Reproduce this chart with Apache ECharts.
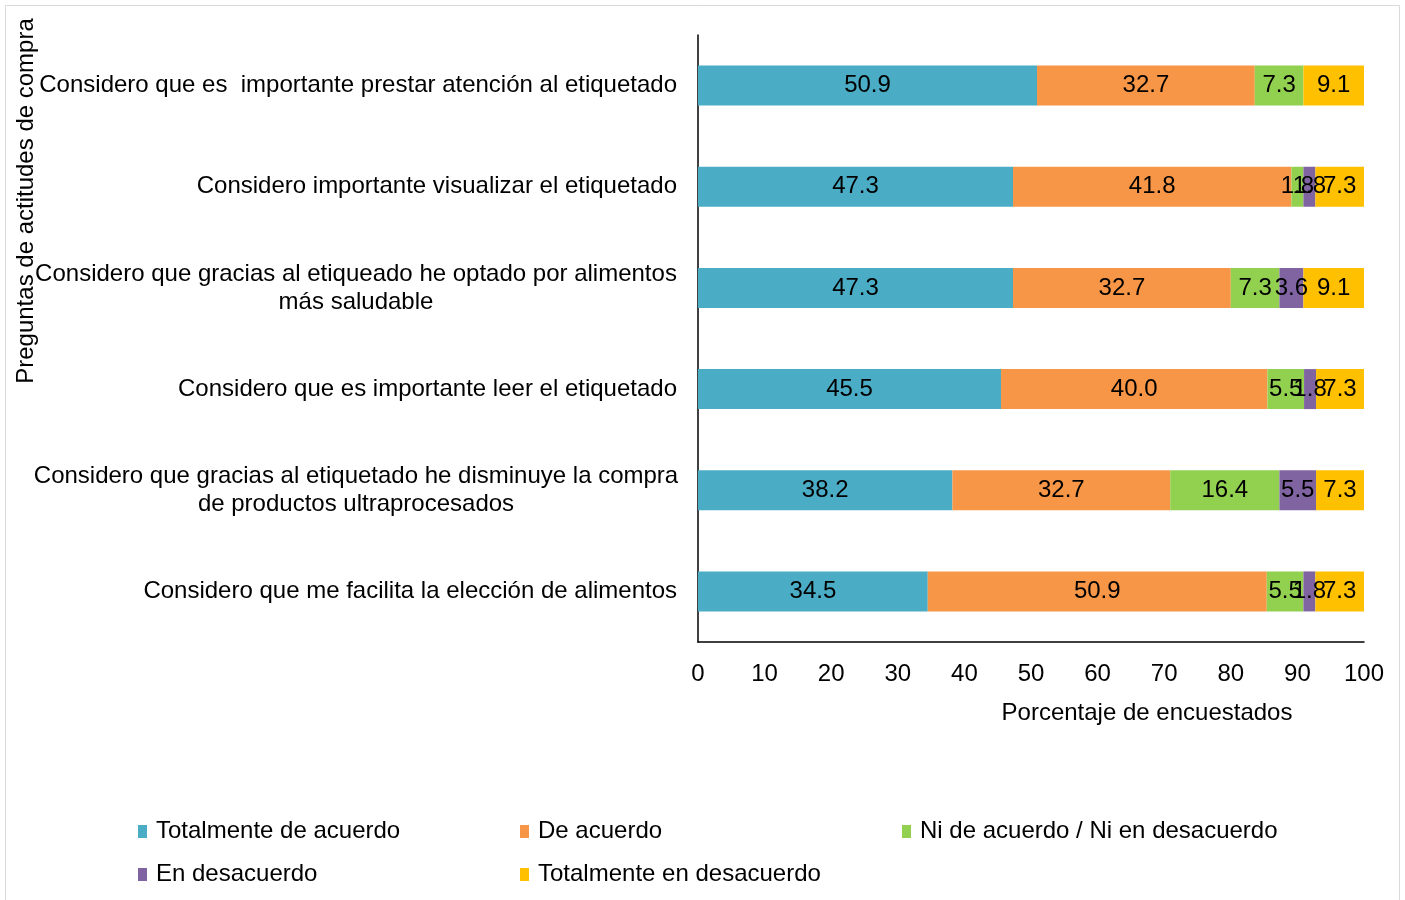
<!DOCTYPE html>
<html>
<head>
<meta charset="utf-8">
<script src="https://cdn.jsdelivr.net/npm/echarts@6/dist/echarts.min.js"></script>
<style>
  html, body { margin: 0; padding: 0; background: #fff; }
  #chart { width: 1405px; height: 900px; }
</style>
</head>
<body>
<div id="chart"></div>
<script>
// categories, top to bottom
const questions = [
  'Considero que es  importante prestar atención al etiquetado',
  'Considero importante visualizar el etiquetado',
  'Considero que gracias al etiqueado he optado por alimentos\nmás saludable',
  'Considero que es importante leer el etiquetado',
  'Considero que gracias al etiquetado he disminuye la compra\nde productos ultraprocesados',
  'Considero que me facilita la elección de alimentos'
];

const seriesNames = [
  'Totalmente de acuerdo',
  'De acuerdo',
  'Ni de acuerdo / Ni en desacuerdo',
  'En desacuerdo',
  'Totalmente en desacuerdo'
];

const totalmenteDeAcuerdo = [50.9, 47.3, 47.3, 45.5, 38.2, 34.5];
const deAcuerdo = [32.7, 41.8, 32.7, 40.0, 32.7, 50.9];
const niNi = [7.3, 1.8, 7.3, 5.5, 16.4, 5.5];
const enDesacuerdo = [0, 1.8, 3.6, 1.8, 5.5, 1.8];
const totalmenteEnDesacuerdo = [9.1, 7.3, 9.1, 7.3, 7.3, 7.3];

const xTicks = { min: 0, max: 100, interval: 10 };

const colors = ['#4BACC6', '#F79646', '#92D050', '#8064A2', '#FFC000'];
const FONT = '"Liberation Sans", Arial, sans-serif';
const FS = 24;

const chart = echarts.init(document.getElementById('chart'));

const allValues = [totalmenteDeAcuerdo, deAcuerdo, niNi, enDesacuerdo, totalmenteEnDesacuerdo];

const option = {
  animation: false,
  color: colors,
  textStyle: { fontFamily: FONT },
  grid: { left: 698, right: 41, top: 35, bottom: 258 },
  graphic: [
    {
      type: 'rect',
      shape: { x: 5.5, y: 5.5, width: 1394, height: 900 },
      style: { fill: 'none', stroke: '#d9d9d9', lineWidth: 1 },
      silent: true
    },
    {
      type: 'text',
      x: 26, y: 201,
      rotation: Math.PI / 2,
      style: {
        text: 'Preguntas de actitudes de compra',
        fontSize: FS, fontFamily: FONT, fill: '#000',
        align: 'center', verticalAlign: 'middle'
      }
    },
    {
      type: 'text',
      x: 1147, y: 713,
      style: {
        text: 'Porcentaje de encuestados',
        fontSize: FS, fontFamily: FONT, fill: '#000',
        align: 'center', verticalAlign: 'middle'
      }
    }
  ],
  legend: {
    left: 133,
    top: 810,
    width: 1200,
    itemWidth: 9,
    itemHeight: 13,
    itemGap: 10,
    icon: 'rect',
    textStyle: { fontSize: FS, color: '#000', width: 354, lineHeight: 33, padding: [0, 0, 0, 4], fontFamily: FONT },
    data: seriesNames
  },
  xAxis: {
    type: 'value',
    min: xTicks.min,
    max: xTicks.max,
    interval: xTicks.interval,
    axisLine: { show: true, lineStyle: { color: '#000', width: 1.5 } },
    axisTick: { show: false },
    splitLine: { show: false },
    axisLabel: { fontSize: FS, color: '#000', margin: 20 }
  },
  yAxis: {
    type: 'category',
    inverse: true,
    data: questions,
    axisLine: { show: true, lineStyle: { color: '#000', width: 1.5 } },
    axisTick: { show: false },
    axisLabel: {
      fontSize: FS,
      color: '#000',
      margin: 21,
      // wrapped labels are centred line by line, single ones stay right-aligned
      formatter: (v) => v.indexOf('\n') < 0 ? v : v.split('\n').map((l) => '{c|' + l + '}').join('\n'),
      rich: {
        c: { fontSize: FS, color: '#000', width: 642, align: 'center', lineHeight: 28, fontFamily: FONT }
      }
    }
  },
  series: seriesNames.map((name, i) => ({
    name: name,
    type: 'bar',
    stack: 'total',
    barWidth: 40,
    data: allValues[i],
    label: {
      show: true,
      position: 'inside',
      color: '#000',
      fontSize: FS,
      fontFamily: FONT,
      formatter: (p) => (p.value ? p.value.toFixed(1) : '')
    }
  }))
};

chart.setOption(option);
</script>
</body>
</html>
